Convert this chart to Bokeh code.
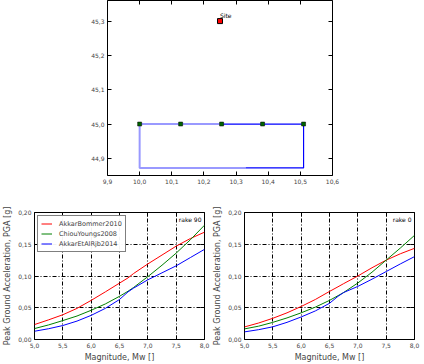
from bokeh.plotting import figure
from bokeh.layouts import column, row
from bokeh.models import FixedTicker, LinearAxis, Range1d, Legend
from bokeh.core.properties import value
from bokeh.embed import file_html
from bokeh.resources import INLINE

FONT = "DejaVu Sans"

# ---------------- data ----------------
# fault map
fault_dark_lon = [10.25, 10.51, 10.51, 10.33]
fault_dark_lat = [45.0, 45.0, 44.872, 44.872]
fault_light_lon = [10.33, 10.0, 10.0, 10.25]
fault_light_lat = [44.872, 44.872, 45.0, 45.0]
node_lon = [10.0, 10.1275, 10.255, 10.3825, 10.51]
node_lat = [45.0, 45.0, 45.0, 45.0, 45.0]
site_lon = [10.25]
site_lat = [45.3]
site_name = ["Site"]
lon_ticks = [9.9, 10.0, 10.1, 10.2, 10.3, 10.4, 10.5, 10.6]
lon_tick_labels = ["9,9", "10,0", "10,1", "10,2", "10,3", "10,4", "10,5", "10,6"]
lat_ticks = [44.9, 45.0, 45.1, 45.2, 45.3]
lat_tick_labels = ["44,9", "45,0", "45,1", "45,2", "45,3"]

# GMPE curves
mag = [5.0, 5.25, 5.5, 5.75, 6.0, 6.25, 6.5, 6.65, 6.75, 7.0, 7.25, 7.5, 7.75, 8.0]
r90_akkar_bommer = [0.0235, 0.031, 0.039, 0.049, 0.0616, 0.075, 0.0888, 0.097, 0.104, 0.119, 0.133, 0.147, 0.159, 0.169]
r90_chiou_youngs = [0.0172, 0.023, 0.0298, 0.037, 0.046, 0.056, 0.068, 0.076, 0.082, 0.099, 0.117, 0.136, 0.157, 0.180]
r90_akkar_rjb = [0.013, 0.017, 0.022, 0.029, 0.038, 0.049, 0.063, 0.075, 0.081, 0.094, 0.105, 0.116, 0.129, 0.142]
r0_akkar_bommer = [0.0198, 0.026, 0.0334, 0.042, 0.052, 0.063, 0.0757, 0.083, 0.088, 0.100, 0.113, 0.125, 0.135, 0.1436]
r0_chiou_youngs = [0.0167, 0.021, 0.027, 0.034, 0.042, 0.051, 0.0616, 0.069, 0.074, 0.089, 0.106, 0.125, 0.144, 0.164]
r0_akkar_rjb = [0.012, 0.0155, 0.020, 0.027, 0.0355, 0.045, 0.057, 0.068, 0.074, 0.0836, 0.095, 0.107, 0.119, 0.1305]
gmpe_names = ["AkkarBommer2010", "ChiouYoungs2008", "AkkarEtAlRjb2014"]
gmpe_colors = ["#ff0000", "#008000", "#0000ff"]
mag_ticks = [5.0, 5.5, 6.0, 6.5, 7.0, 7.5, 8.0]
mag_tick_labels = ["5,0", "5,5", "6,0", "6,5", "7,0", "7,5", "8,0"]
pga_ticks = [0.0, 0.05, 0.10, 0.15, 0.20]
pga_tick_labels = ["0,00", "0,05", "0,10", "0,15", "0,20"]
rake_labels = ["rake 90", "rake 0"]


def style_axis(ax, ticks, labels, show_labels=True):
    ax.ticker = FixedTicker(ticks=ticks)
    ax.major_label_overrides = {t: l for t, l in zip(ticks, labels)}
    ax.major_tick_in = 4
    ax.major_tick_out = 0
    ax.minor_tick_in = 0
    ax.minor_tick_out = 0
    ax.major_tick_line_color = "black"
    ax.axis_line_color = None
    ax.major_label_standoff = 3
    ax.major_label_text_font = FONT
    ax.major_label_text_font_size = "6px" if show_labels else "0px"
    ax.axis_label_text_font = FONT
    ax.axis_label_text_font_size = "8px"
    ax.axis_label_text_font_style = "normal"
    ax.axis_label_standoff = 3


def add_mirror_axes(p, xt, yt):
    top = LinearAxis()
    style_axis(top, xt, [""] * len(xt), show_labels=False)
    top.major_label_standoff = 0
    p.add_layout(top, "above")
    right = LinearAxis()
    style_axis(right, yt, [""] * len(yt), show_labels=False)
    right.major_label_standoff = 0
    p.add_layout(right, "right")


# ---------------- top map ----------------
pm = figure(width=424, height=200, output_backend="svg", toolbar_location=None,
            x_range=Range1d(9.9, 10.6), y_range=Range1d(44.85, 45.36),
            min_border_left=107, min_border_right=92, min_border_top=0, min_border_bottom=25)
pm.outline_line_color = "black"
pm.xgrid.visible = False
pm.ygrid.visible = False
style_axis(pm.xaxis[0], lon_ticks, lon_tick_labels)
style_axis(pm.yaxis[0], lat_ticks, lat_tick_labels)
add_mirror_axes(pm, lon_ticks, lat_ticks)

pm.line(fault_light_lon, fault_light_lat, line_color="#0000ff", line_alpha=0.4, line_width=2)
pm.line(fault_dark_lon, fault_dark_lat, line_color="#0000ff", line_width=1.2)
pm.scatter(node_lon, node_lat, marker="square", size=4, fill_color="#006400", line_color="black", line_width=0.5)
pm.scatter(site_lon, site_lat, marker="square", size=5, fill_color="#ff0000", line_color="black", line_width=1)
pm.text(site_lon, site_lat, text=site_name, text_font=value(FONT), text_font_size="6px",
        text_align="left", text_baseline="bottom", x_offset=0, y_offset=-2)


# ---------------- GMPE panels ----------------
def gmpe_panel(curves, rake, legend, width, left, right):
    p = figure(width=width, height=164, output_backend="svg", toolbar_location=None,
               x_range=Range1d(5.0, 8.0), y_range=Range1d(0.0, 0.20),
               min_border_left=left, min_border_right=right, min_border_top=12, min_border_bottom=24)
    p.outline_line_color = "black"
    style_axis(p.xaxis[0], mag_ticks, mag_tick_labels)
    style_axis(p.yaxis[0], pga_ticks, pga_tick_labels)
    p.xaxis[0].axis_label = "Magnitude, Mw []"
    p.yaxis[0].axis_label = "Peak Ground Acceleration, PGA [g]"
    p.xaxis[0].axis_label_standoff = 2
    p.yaxis[0].axis_label_standoff = 3
    add_mirror_axes(p, mag_ticks, pga_ticks)
    p.xgrid[0].ticker = FixedTicker(ticks=[5.5, 6.0, 6.5, 7.0, 7.5])
    p.ygrid[0].ticker = FixedTicker(ticks=[0.05, 0.10, 0.15])
    for g in (p.xgrid[0], p.ygrid[0]):
        g.grid_line_color = "black"
        g.grid_line_dash = "4 2 1 2"
        g.grid_line_width = 1
    rends = []
    for ys, name, c in zip(curves, gmpe_names, gmpe_colors):
        r = p.line(mag, ys, line_color=c, line_width=1)
        rends.append((name, [r]))
    p.text([8.0], [0.20], text=[rake], text_font=value(FONT), text_font_size="6px",
           text_align="right", text_baseline="top", x_offset=-3, y_offset=3)
    if legend:
        lg = Legend(items=rends, location="top_left")
        lg.label_text_font = FONT
        lg.label_text_font_size = "6.5px"
        lg.label_height = 9
        lg.glyph_height = 9
        lg.glyph_width = 11
        lg.spacing = 1
        lg.padding = 3
        lg.margin = 3
        lg.border_line_color = "black"
        lg.label_standoff = 7
        p.add_layout(lg, "center")
    return p


p1 = gmpe_panel([r90_akkar_bommer, r90_chiou_youngs, r90_akkar_rjb], rake_labels[0], True, 210, 29, 6)
p2 = gmpe_panel([r0_akkar_bommer, r0_chiou_youngs, r0_akkar_rjb], rake_labels[1], False, 214, 29, 10)

layout = column(pm, row(p1, p2, spacing=0), spacing=0)
open("out.html", "w").write(file_html(layout, INLINE))
